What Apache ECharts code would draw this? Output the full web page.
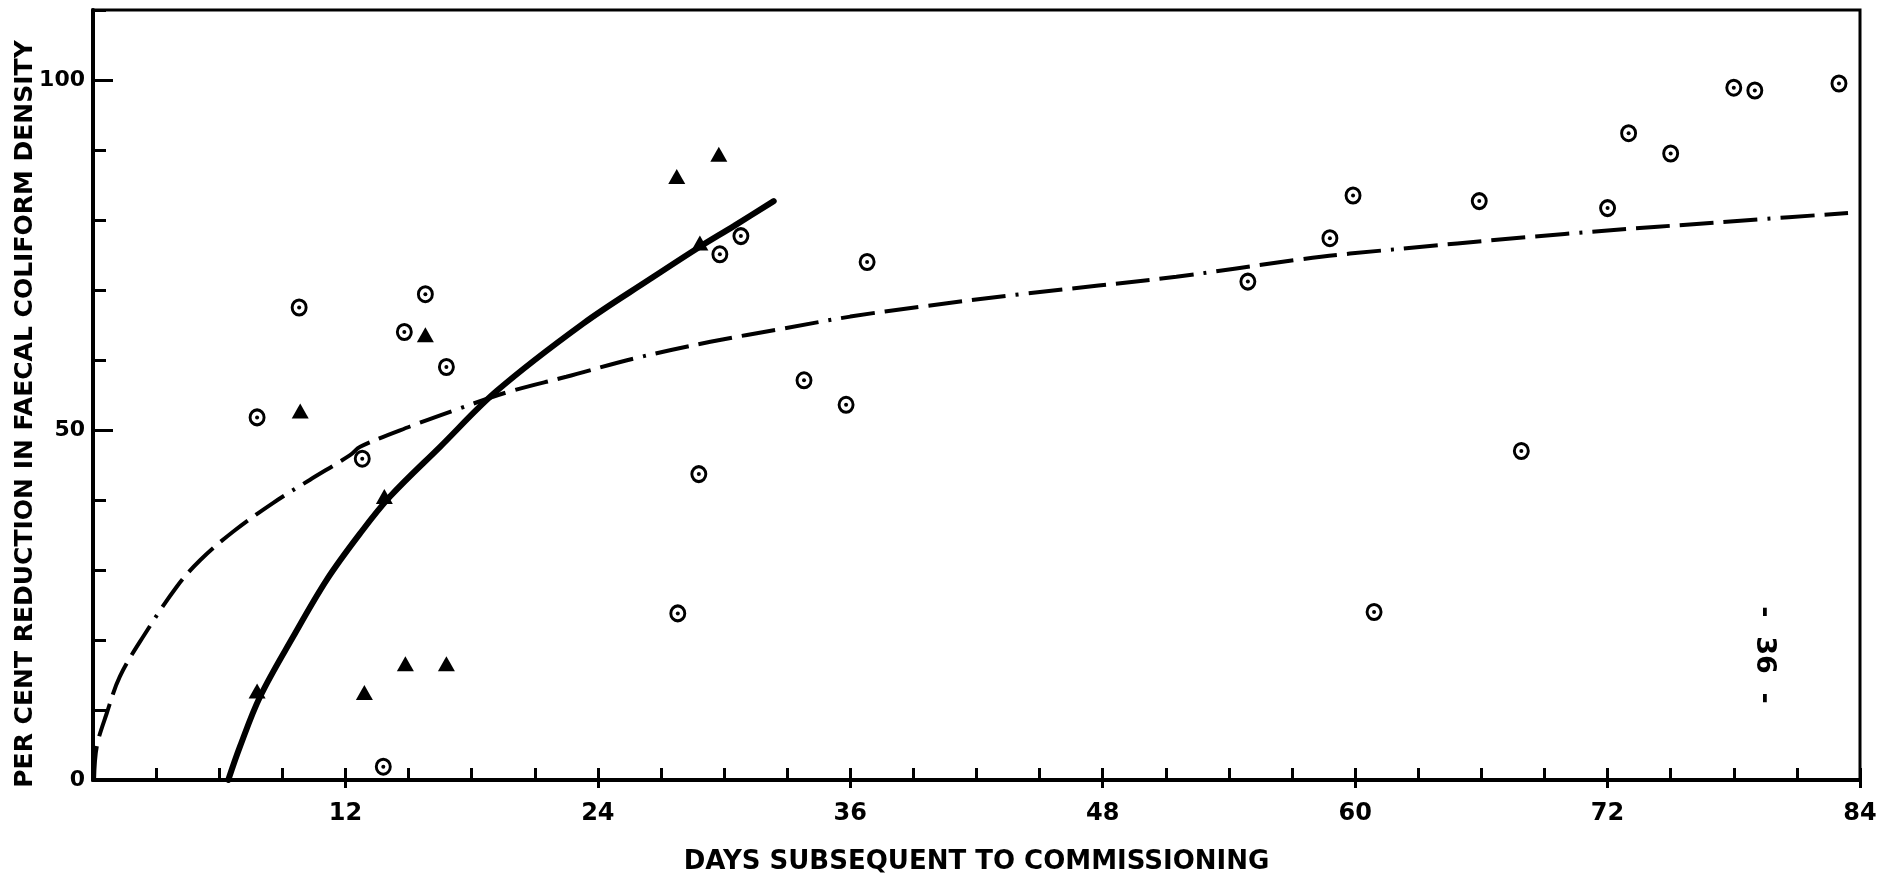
<!DOCTYPE html>
<html>
<head>
<meta charset="utf-8">
<script src="https://cdn.jsdelivr.net/npm/echarts@6/dist/echarts.min.js"></script>
<style>
html,body{margin:0;padding:0;background:#fff;}
#chart{width:1883px;height:880px;}
</style>
</head>
<body>
<div id="chart"></div>
<script>
// ---- data ----
const circleDays = [7.8, 9.8, 12.8, 13.8, 14.8, 15.8, 16.8, 27.8, 28.8, 29.8, 30.8, 33.8, 35.8, 36.8, 54.9, 58.8, 59.9, 60.9, 65.9, 67.9, 72.0, 73.0, 75.0, 78.0, 79.0, 83.0];
const circleVals = [51.8, 67.5, 45.9, 1.9, 64.0, 69.4, 59.0, 23.8, 43.7, 75.1, 77.7, 57.1, 53.6, 74.0, 71.2, 77.4, 83.5, 24.0, 82.7, 47.0, 81.7, 92.4, 89.5, 98.9, 98.5, 99.5];

const triDays = [7.8, 9.85, 12.9, 13.85, 14.85, 15.8, 16.8, 27.75, 28.85, 29.75];
const triVals = [12.7, 52.7, 12.5, 40.5, 16.6, 63.6, 16.6, 86.2, 76.7, 89.4];

const solidDays = [6.43, 6.99, 7.94, 9.52, 11.11, 12.69, 14.12, 16.5, 19.2, 23.3, 26.5, 28.7, 30.5, 32.36];
const solidVals = [0, 4.8, 11.9, 20.5, 28.6, 35.2, 40.5, 47.6, 55.6, 65.2, 71.6, 75.9, 79.2, 82.7];

const dashDays = [0.05, 0.18, 0.65, 1.28, 2.39, 3.98, 5.09, 6.67, 8.57, 10.32, 12.22, 12.7, 15.07, 17.45, 19.8, 22.5, 25.7, 29.35, 32.84, 36.0, 39.3, 44.1, 51.5, 57.2, 59.75, 69.96, 78.8, 83.43];
const dashVals = [0, 4.8, 9.5, 14.8, 20.5, 27.6, 31.4, 35.5, 39.6, 42.9, 46.4, 47.6, 50.5, 53.1, 55.5, 57.6, 60.2, 62.6, 64.5, 66.2, 67.6, 69.4, 71.9, 74.3, 75.2, 78.0, 80.0, 81.0];

const xLabelTicks = [12, 24, 36, 48, 60, 72, 84];
const yLabelTicks = [0, 50, 100];

const xTitle = 'DAYS SUBSEQUENT TO COMMISSIONING';
const yTitle = 'PER CENT REDUCTION IN FAECAL COLIFORM DENSITY';
const pageNote = '-  36  -';

// ---- build ----
const zip = (a, b) => a.map((v, i) => [v, b[i]]);
const FONT = 'DejaVu Sans';

const chart = echarts.init(document.getElementById('chart'), null, {renderer: 'canvas'});
chart.setOption({
  animation: false,
  backgroundColor: '#fff',
  grid: {left: 93, right: 23, top: 10, bottom: 100, show: true, borderColor: '#000', borderWidth: 3, backgroundColor: 'transparent'},
  xAxis: [
    {
      type: 'value', min: 0, max: 84, interval: 3, position: 'bottom',
      axisLine: {show: true, onZero: false, lineStyle: {color: '#000', width: 4}},
      axisTick: {show: true, inside: true, length: 12, lineStyle: {color: '#000', width: 3}},
      axisLabel: {show: false},
      splitLine: {show: false},
      name: xTitle, nameLocation: 'middle', nameGap: 69,
      nameTextStyle: {fontFamily: FONT, fontSize: 26, fontWeight: 'bold', color: '#000'}
    },
    {
      type: 'value', min: 0, max: 84, position: 'bottom',
      axisLine: {show: false},
      axisTick: {show: true, inside: false, length: 8, customValues: xLabelTicks, lineStyle: {color: '#000', width: 3}},
      axisLabel: {show: true, customValues: xLabelTicks, margin: 22, fontFamily: FONT, fontSize: 24, fontWeight: 'bold', color: '#000'},
      splitLine: {show: false}
    }
  ],
  yAxis: [
    {
      type: 'value', min: 0, max: 110, interval: 10, position: 'left',
      axisLine: {show: true, onZero: false, lineStyle: {color: '#000', width: 4}},
      axisTick: {show: true, inside: true, length: 13, lineStyle: {color: '#000', width: 3}},
      axisLabel: {show: false},
      splitLine: {show: false},
      name: yTitle, nameLocation: 'middle', nameRotate: 90, nameGap: 55,
      nameTextStyle: {fontFamily: FONT, fontSize: 25, fontWeight: 'bold', color: '#000', padding: [0, 38, 0, 0]}
    },
    {
      type: 'value', min: 0, max: 110, position: 'left',
      axisLine: {show: false},
      axisTick: {show: true, inside: true, length: 20, customValues: yLabelTicks, lineStyle: {color: '#000', width: 3}},
      axisLabel: {show: true, customValues: yLabelTicks, margin: 8, fontFamily: FONT, fontSize: 22, fontWeight: 'bold', color: '#000'},
      splitLine: {show: false}
    }
  ],
  series: [
    {
      type: 'line', data: zip(dashDays, dashVals), showSymbol: false, smooth: 0.35,
      lineStyle: {color: '#000', width: 4, type: [34, 10, 34, 10, 34, 10, 34, 10, 3, 10], cap: 'butt'}, z: 2
    },
    {
      type: 'line', data: zip(solidDays, solidVals), showSymbol: false, smooth: 0.35,
      lineStyle: {color: '#000', width: 6, cap: 'round'}, z: 3
    },
    {
      type: 'scatter', data: zip(circleDays, circleVals), symbol: 'circle', symbolSize: [14, 15],
      itemStyle: {color: '#fff', borderColor: '#000', borderWidth: 3, opacity: 1}, z: 4
    },
    {
      type: 'scatter', data: zip(circleDays, circleVals), symbol: 'circle', symbolSize: 4,
      itemStyle: {color: '#000', opacity: 1}, z: 5
    },
    {
      type: 'scatter', data: zip(triDays, triVals), symbol: 'triangle', symbolSize: [17, 15],
      itemStyle: {color: '#000', opacity: 1}, z: 5
    }
  ],
  graphic: [
    {
      type: 'text', x: 1764, y: 655, rotation: -Math.PI / 2,
      style: {text: pageNote, font: 'bold 27px "DejaVu Sans"', fill: '#000', align: 'center', verticalAlign: 'middle'}
    }
  ]
});
</script>
</body>
</html>
